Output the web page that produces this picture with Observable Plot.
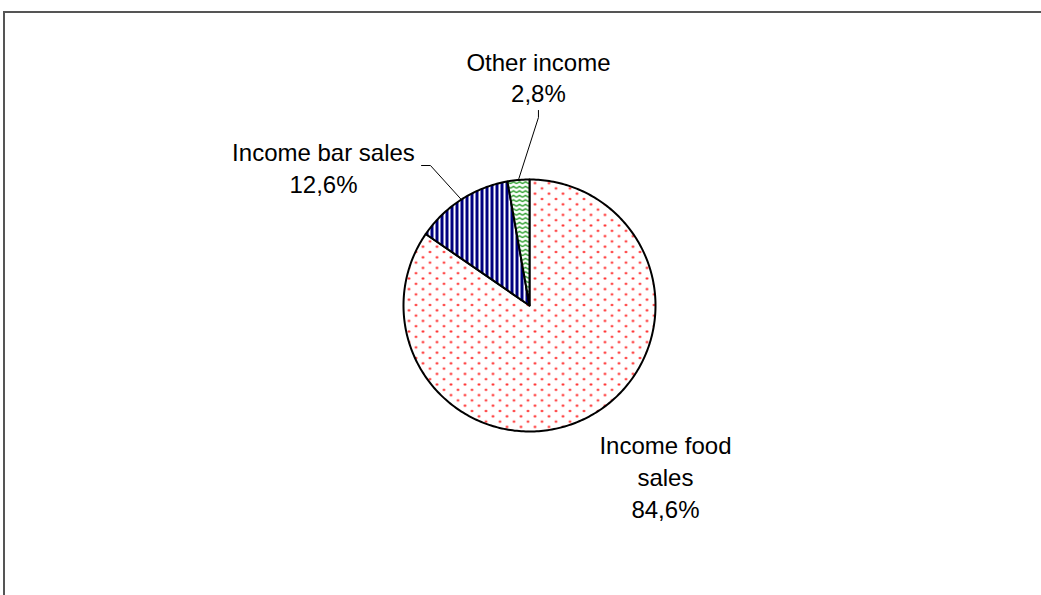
<!DOCTYPE html>
<html>
<head>
<meta charset="utf-8">
<script src="https://cdn.jsdelivr.net/npm/d3@7"></script>
<script src="https://cdn.jsdelivr.net/npm/@observablehq/plot@0.6"></script>
<style>
  html, body { margin: 0; padding: 0; background: #fff; overflow: hidden; }
  #wrap { position: relative; width: 1041px; height: 595px; overflow: hidden; }
  #chart { position: absolute; left: 0; top: 0; }
  #frame { position: absolute; left: 3px; top: 11px; width: 1200px; height: 800px; border-left: 2px solid #555; border-top: 2px solid #555; box-sizing: border-box; background: none; pointer-events: none; }
</style>
</head>
<body>
<div id="wrap">
<div id="chart"></div>
<div id="frame"></div>
</div>
<script>
// ---- data ----
const categories = ["Income food sales", "Income bar sales", "Other income"];
const shares = [84.6, 12.6, 2.8];
const labelLines = ["Income food\nsales", "Income bar sales", "Other income"];
const patterns = ["url(#pFood)", "url(#pBar)", "url(#pOther)"];

// ---- geometry derived from the shares (angles clockwise from 12 o'clock) ----
const total = d3.sum(shares);
let acc = 0;
const slices = categories.map((c, i) => {
  const a0 = acc / total * 2 * Math.PI;
  acc += shares[i];
  const a1 = acc / total * 2 * Math.PI;
  return {cat: c, a0, a1, mid: (a0 + a1) / 2, i};
});
function slicePoints(s) {
  const pts = [{cat: s.cat, x: 0, y: 0}];
  const n = Math.max(4, Math.ceil((s.a1 - s.a0) / (Math.PI / 180)));
  for (let k = 0; k <= n; k++) {
    const a = s.a0 + (s.a1 - s.a0) * k / n;
    pts.push({cat: s.cat, x: Math.sin(a), y: Math.cos(a)});
  }
  pts.push({cat: s.cat, x: 0, y: 0});
  return pts;
}
const pol = a => ({x: Math.sin(a), y: Math.cos(a)});

// label layout (data units of the pie, radius = 1)
const labelLayout = [
  {x: 1.079, y: -1.352},
  {x: -1.635, y: 1.101},
  {x: 0.071, y: 1.819}
];
const labels = slices.map((s, i) => ({
  text: labelLines[i] + "\n" + shares[i].toFixed(1).replace(".", ",") + "%",
  ...labelLayout[i]
}));
// leader lines for the two small slices
const leaders = [
  [{...pol(slices[1].mid), g: 1}, {x: -0.786, y: 1.111, g: 1}, {x: -0.857, y: 1.111, g: 1}],
  [{...pol(slices[2].mid), g: 2}, {x: 0.071, y: 1.492, g: 2}, {x: 0.071, y: 1.548, g: 2}]
].flat();

const font = "'Liberation Sans', Arial, Helvetica, sans-serif";

const plot = Plot.plot({
  width: 1041,
  height: 595,
  margin: 0,
  style: {background: "transparent", overflow: "visible"},
  x: {domain: [-1, 1], range: [403, 655], axis: null},
  y: {domain: [-1, 1], range: [431, 179], axis: null},
  marks: [
    ...slices.map((s, i) => Plot.line(slicePoints(s), {
      x: "x", y: "y", fill: patterns[i], stroke: "black", strokeWidth: 2, strokeLinejoin: "round"
    })),
    Plot.line(leaders, {x: "x", y: "y", z: "g", stroke: "black", strokeWidth: 1}),
    Plot.text(labels, {
      x: "x", y: "y", text: "text", fontSize: 24, fontFamily: font, fill: "black",
      textAnchor: "middle", lineAnchor: "middle", lineHeight: 1.32
    })
  ]
});

const ns = "http://www.w3.org/2000/svg";
const defs = document.createElementNS(ns, "defs");
defs.innerHTML = `
  <pattern id="pFood" patternUnits="userSpaceOnUse" width="14" height="10.6">
    <rect width="14" height="10.6" fill="white"/>
    <circle cx="2.5" cy="2.5" r="1.2" fill="#ff1a1a"/>
    <circle cx="9.5" cy="7.8" r="1.2" fill="#ff1a1a"/>
  </pattern>
  <pattern id="pBar" patternUnits="userSpaceOnUse" width="5" height="5">
    <rect width="5" height="5" fill="white"/>
    <rect x="0" width="3" height="5" fill="#000080"/>
  </pattern>
  <pattern id="pOther" patternUnits="userSpaceOnUse" width="6" height="4.5">
    <rect width="6" height="4.5" fill="white"/>
    <polyline points="0,3.2 3,1.2 6,3.2" fill="none" stroke="#229922" stroke-width="1.3"/>
  </pattern>`;
plot.insertBefore(defs, plot.firstChild);
document.getElementById("chart").appendChild(plot);
</script>
</body>
</html>
